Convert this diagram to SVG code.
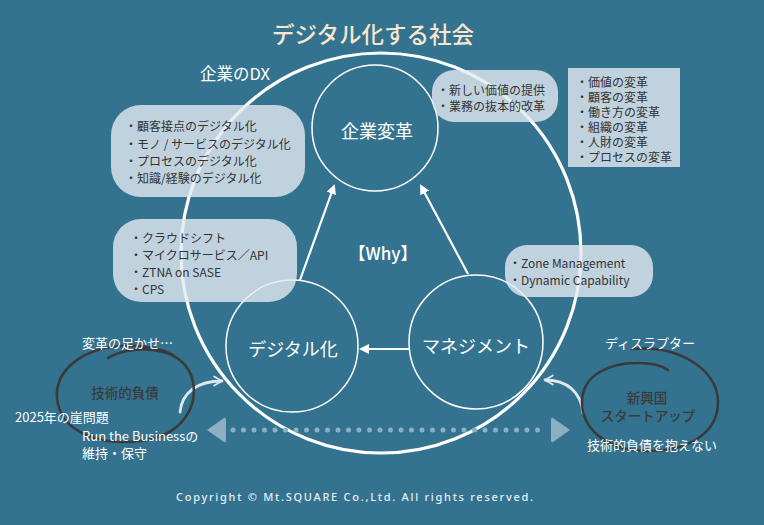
<svg xmlns="http://www.w3.org/2000/svg" width="764" height="525" viewBox="0 0 764 525">
<defs>
<style>
.jp{font-family:"Noto Sans CJK JP","Noto Sans",sans-serif;}
.w{fill:#ffffff;}
.title{fill:#f8e7cc;font-size:22.5px;font-weight:500;}
.big{font-size:18px;fill:#ffffff;text-anchor:middle;}
.box{fill:#e4eaf1;fill-opacity:0.8;}
.bt{fill:#333333;font-size:12px;}
.lbl{fill:#ffffff;font-size:13px;}
.dk{fill:#3a3a3a;font-size:13.5px;text-anchor:middle;font-weight:500;}
.ring{fill:none;stroke:#ffffff;stroke-width:1.5;}
.conn{stroke:#ffffff;stroke-width:2.2;fill:none;}
.hand{fill:none;stroke:#3a3a3a;stroke-width:2.6;stroke-linecap:round;}
.curv{fill:none;stroke:#dde7ef;stroke-width:2.8;stroke-linecap:round;}
</style>
<marker id="ah" viewBox="0 0 10 10" refX="8" refY="5" markerWidth="4.5" markerHeight="4.5" orient="auto" markerUnits="strokeWidth">
<path d="M0,0 L10,5 L0,10 z" fill="#ffffff"/>
</marker>
<marker id="ch" viewBox="0 0 10 10" refX="8" refY="5" markerWidth="4" markerHeight="4" orient="auto" markerUnits="strokeWidth">
<path d="M1,1 L8,5 L1,9" fill="none" stroke="#dde7ef" stroke-width="1.6" stroke-linecap="round" stroke-linejoin="round"/>
</marker>
</defs>
<rect width="764" height="525" fill="#34738f"/>

<text class="jp title" x="373" y="33" text-anchor="middle" dominant-baseline="central">デジタル化する社会</text>

<g id="society-circle">
<circle cx="381" cy="253" r="200" fill="none" stroke="#ffffff" stroke-width="3.2"/>
<text class="jp w" x="200" y="73" font-size="16.5" dominant-baseline="central">企業のDX</text>
</g>

<g id="connectors">
<line class="conn" x1="300" y1="280" x2="334" y2="186" marker-end="url(#ah)"/>
<line class="conn" x1="468" y1="274" x2="421" y2="186" marker-end="url(#ah)"/>
<line class="conn" x1="410" y1="349" x2="361" y2="349" marker-end="url(#ah)"/>
<path class="curv" d="M180,412 C182,392 198,381 222,381" marker-end="url(#ch)"/>
<path class="curv" d="M583,413 C581,392 567,380 545,380" marker-end="url(#ch)"/>
<g id="dotted-arrow" fill="#8cafc4">
<line x1="233" y1="430" x2="548" y2="430" stroke="#8cafc4" stroke-width="5" stroke-linecap="round" stroke-dasharray="0 10.5"/>
<path d="M207,430 L224,418 Q226,417 226,420 L226,440 Q226,443 224,442 Z"/>
<path d="M570,430 L553,418 Q551,417 551,420 L551,440 Q551,443 553,442 Z"/>
</g>
</g>

<g id="node-kigyo-henkaku">
<circle class="ring" cx="375" cy="128" r="63"/>
<text class="jp big" x="377" y="130" dominant-baseline="central">企業変革</text>
</g>
<g id="node-digital">
<circle class="ring" cx="292" cy="346" r="66"/>
<text class="jp big" x="293" y="348" dominant-baseline="central">デジタル化</text>
</g>
<g id="node-management">
<circle class="ring" cx="476" cy="342" r="67"/>
<text class="jp big" x="476" y="345" dominant-baseline="central">マネジメント</text>
</g>

<text class="jp w" x="383" y="252" font-size="17" font-weight="500" text-anchor="middle" dominant-baseline="central">【Why】</text>

<g id="box-digital-items">
<rect class="box" x="111" y="105" width="194" height="92" rx="30"/>
<text class="jp bt" x="125" y="125" dominant-baseline="central">・顧客接点のデジタル化</text>
<text class="jp bt" x="125" y="143" dominant-baseline="central">・モノ / サービスのデジタル化</text>
<text class="jp bt" x="125" y="160" dominant-baseline="central">・プロセスのデジタル化</text>
<text class="jp bt" x="125" y="177" dominant-baseline="central">・知識/経験のデジタル化</text>
</g>

<g id="box-tech">
<rect class="box" x="113" y="219" width="184" height="83" rx="28"/>
<text class="jp bt" x="130" y="237" dominant-baseline="central">・クラウドシフト</text>
<text class="jp bt" x="130" y="254" dominant-baseline="central">・マイクロサービス／API</text>
<text class="jp bt" x="130" y="271" dominant-baseline="central">・ZTNA on SASE</text>
<text class="jp bt" x="130" y="288" dominant-baseline="central">・CPS</text>
</g>

<g id="box-value">
<rect class="box" x="432" y="70" width="126" height="52" rx="22"/>
<text class="jp bt" x="437" y="89" dominant-baseline="central">・新しい価値の提供</text>
<text class="jp bt" x="437" y="105" dominant-baseline="central">・業務の抜本的改革</text>
</g>

<g id="box-henkaku-list">
<rect class="box" x="568" y="68" width="112" height="99"/>
<text class="jp bt" x="576" y="81" font-size="11" dominant-baseline="central">・価値の変革</text>
<text class="jp bt" x="576" y="96" font-size="11" dominant-baseline="central">・顧客の変革</text>
<text class="jp bt" x="576" y="111" font-size="11" dominant-baseline="central">・働き方の変革</text>
<text class="jp bt" x="576" y="126" font-size="11" dominant-baseline="central">・組織の変革</text>
<text class="jp bt" x="576" y="141" font-size="11" dominant-baseline="central">・人財の変革</text>
<text class="jp bt" x="576" y="156" font-size="11" dominant-baseline="central">・プロセスの変革</text>
</g>

<g id="box-capability">
<rect class="box" x="505" y="245" width="148" height="52" rx="22"/>
<text class="jp bt" x="509" y="262" font-size="12.5" dominant-baseline="central">・Zone Management</text>
<text class="jp bt" x="509" y="279" font-size="12.5" dominant-baseline="central">・Dynamic Capability</text>
</g>

<g id="node-tech-debt">
<path class="hand" d="M108,358 C130,345 178,344 191,375 C201,402 185,436 140,441 C95,446 60,430 57,398 C55,370 82,349 120,346 C142,345 160,348 173,355"/>
<text class="jp dk" x="125" y="392" dominant-baseline="central">技術的負債</text>
<text class="jp lbl" x="82" y="342" dominant-baseline="central">変革の足かせ…</text>
<text class="jp lbl" x="15" y="416" dominant-baseline="central">2025年の崖問題</text>
<text class="jp lbl" x="82" y="435" font-size="12" dominant-baseline="central">Run the Businessの</text>
<text class="jp lbl" x="82" y="452" font-size="12" dominant-baseline="central">維持・保守</text>
</g>

<g id="node-startup">
<path class="hand" d="M632,349 C680,345 718,370 718,402 C718,435 685,452 645,451 C605,450 582,428 582,402 C582,375 610,362 640,363 C652,363 662,366 668,370"/>
<text class="jp dk" x="647" y="397" dominant-baseline="central">新興国</text>
<text class="jp dk" x="648" y="415" dominant-baseline="central">スタートアップ</text>
<text class="jp lbl" x="605" y="342" font-size="13.5" dominant-baseline="central">ディスラプター</text>
<text class="jp lbl" x="587" y="444" font-size="13.5" dominant-baseline="central">技術的負債を抱えない</text>
</g>

<text font-family="'Noto Sans','DejaVu Sans',sans-serif" font-size="11" font-weight="500" fill="#e8eef3" x="176" y="496" dominant-baseline="central" textLength="357" lengthAdjust="spacing">Copyright © Mt.SQUARE Co.,Ltd. All rights reserved.</text>
</svg>
